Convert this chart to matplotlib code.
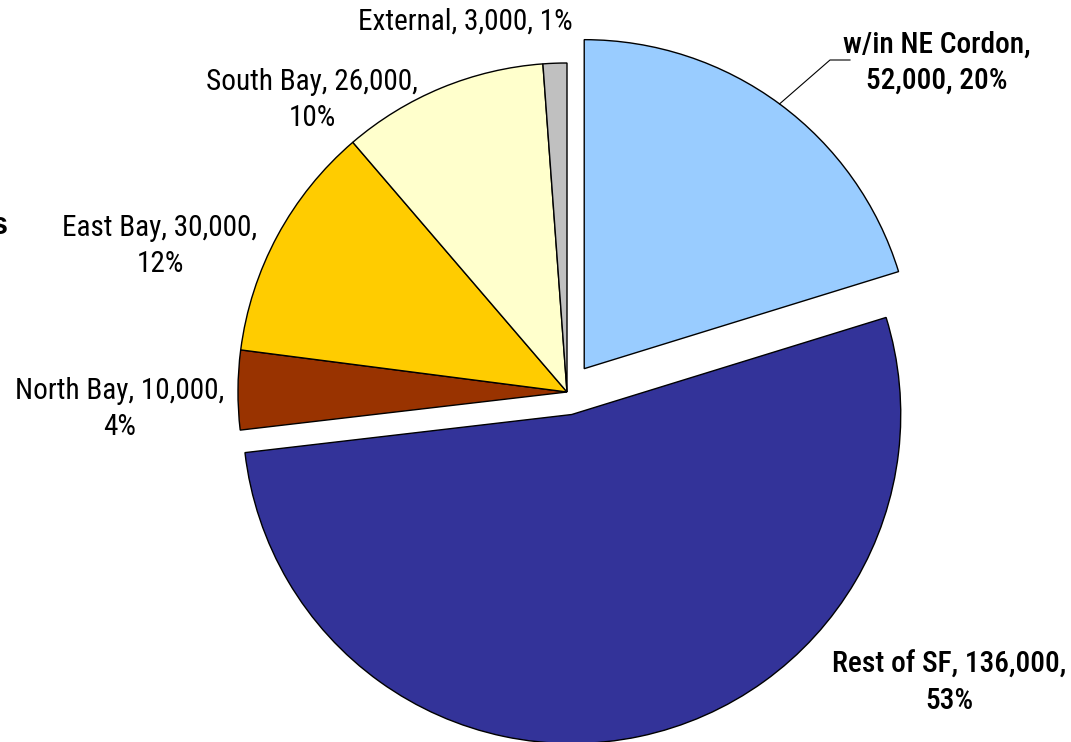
"""Trip distribution pie, recreated with matplotlib."""

import matplotlib.pyplot as plt
import numpy as np
from matplotlib import font_manager as fm

labels = ["w/in NE Cordon", "Rest of SF", "North Bay", "East Bay", "South Bay", "External"]
trips = [52000, 136000, 10000, 30000, 26000, 3000]
shares = [20, 53, 4, 12, 10, 1]
colors = ["#99CCFF", "#333399", "#993300", "#FFCC00", "#FFFFCC", "#C0C0C0"]
explode_px = [29, 23, 0, 0, 0, 0]
bold = [True, True, False, False, False, False]


def narrow_font(weight):
    # look for an Arial Narrow-like face among the installed fonts
    rank = {"Liberation Sans Narrow": 0, "Arial Narrow": 0, "Roboto Condensed": 1,
            "Roboto": 2, "Open Sans Condensed": 2, "Open Sans": 3, "Noto Sans": 4,
            "DejaVu Sans": 5}
    best = None
    for f in fm.fontManager.ttflist:
        if f.style != "normal" or f.name not in rank:
            continue
        narrow = "Narrow" in f.name or "Condensed" in f.name or "condensed" in str(f.stretch)
        if not narrow:
            continue
        w = f.weight if isinstance(f.weight, int) else fm.weight_dict.get(f.weight, 400)
        score = (rank[f.name], abs(w - weight),
                 0 if "semi" not in str(f.stretch) else 1)
        if best is None or score < best[0]:
            best = (score, f.fname)
    if best is None:
        return fm.FontProperties(family="Liberation Sans",
                                 weight="bold" if weight > 500 else "normal")
    return fm.FontProperties(fname=best[1])


W, H = 1071, 742
fig = plt.figure(figsize=(W / 100, H / 100), dpi=100)
ax = fig.add_axes([0, 0, 1, 1])

cx, cy, R = 567, H - 392, 329
wedges, _ = ax.pie(trips, colors=colors, explode=explode_px, startangle=90,
                   counterclock=False, radius=R, center=(cx, cy),
                   wedgeprops=dict(edgecolor="black", linewidth=1))
ax.set_xlim(0, W)
ax.set_ylim(0, H)
ax.set_aspect("equal")
ax.axis("off")

# size each face so a reference line has the width seen in the chart
renderer = fig.canvas.get_renderer()
fonts = {}
for is_bold, weight, sample, target in [(False, 400, "External, 3,000, 1%", 214),
                                        (True, 550, "Rest of SF, 136,000,", 234)]:
    fp = narrow_font(weight)
    t = ax.text(0, 0, sample, fontproperties=fp, fontsize=20)
    width = t.get_window_extent(renderer).width
    t.remove()
    fonts[is_bold] = (fp, 20 * target / width)

# label text, in pixel coords from top-left
label_pos = [(937, 63), (949, 683), (120, 409), (160, 246), (312, 100), (465, 22)]
for i, (name, n, pct) in enumerate(zip(labels, trips, shares)):
    if name == "External":
        txt = f"{name}, {n:,}, {pct}%"
    elif name == "w/in NE Cordon":
        txt = f"{name},\n{n:,}, {pct}%"
    else:
        txt = f"{name}, {n:,},\n{pct}%"
    x, y = label_pos[i]
    fp, size = fonts[bold[i]]
    ax.text(x, H - y, txt, ha="center", va="center", multialignment="center",
            fontproperties=fp, fontsize=size, linespacing=1.38)

# leader line for the NE Cordon label
w = wedges[0]
mid = np.deg2rad((w.theta1 + w.theta2) / 2)
x0 = w.center[0] + R * np.cos(mid)
y0 = w.center[1] + R * np.sin(mid)
ax.plot([x0, 830, 850], [y0, H - 60, H - 60], color="black", linewidth=0.8)

# cropped title fragment at left edge
ax.text(8, H - 226, "s", ha="right", va="center", fontsize=22, fontweight="bold",
        family="Liberation Sans")

fig.savefig("out.png", dpi=100)
